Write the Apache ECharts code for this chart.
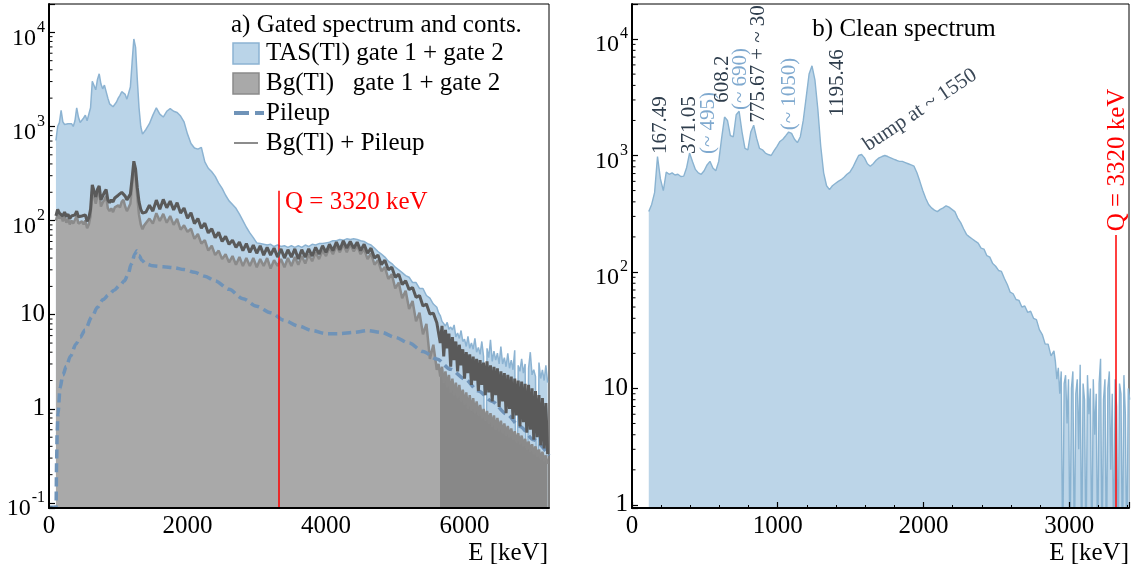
<!DOCTYPE html>
<html>
<head>
<meta charset="utf-8">
<script src="https://cdn.jsdelivr.net/npm/echarts@6/dist/echarts.min.js"></script>
<style>
html,body{margin:0;padding:0;background:#fff}
#chart{width:1136px;height:569px}
</style>
</head>
<body>
<div id="chart"></div>
<script>
// ---------- Panel a: gated spectrum and contaminants ----------
// energy grid (keV): 25 keV bins to 1400, 50 keV bins to 5600, 25 keV bins in the tail
const gatedEnergies = [];
for (let e = 100; e <= 1400; e += 25) gatedEnergies.push(e);
for (let e = 1450; e <= 5600; e += 50) gatedEnergies.push(e);
for (let e = 5625; e <= 7200; e += 25) gatedEnergies.push(e);

// TAS(Tl) gate 1 + gate 2
const tasCounts = [
  // 100 .. 1400
  710, 1000, 1100, 1480, 1120, 1050, 1000, 1070, 1020, 1070,
  1000, 1150, 1580, 1260, 1100, 1150, 1230, 1320, 1150, 1200,
  1580, 3020, 3160, 2450, 3160, 3630, 2820, 2510, 2750, 2880,
  2000, 1740, 1660, 1620, 1700, 1820, 2000, 2140, 2340, 2450,
  2190, 1950, 2000, 2630, 4790, 8510, 6920, 3160, 1580, 1000,
  830, 850, 930,
  // 1450 .. 5600
  1070, 1320, 1580, 1350, 1260, 1450, 1550, 1450, 1410, 1290,
  1120, 830, 660, 590, 575, 600, 420, 360, 330, 295,
  250, 220, 186, 162, 148, 135, 117, 100, 85, 74,
  66, 58, 57, 56, 55, 56, 53, 55, 53, 54,
  52, 54, 52, 54, 52, 55, 53, 56, 55, 57,
  57, 58, 59, 61, 61, 63, 62, 64, 63, 64,
  63, 61, 60, 57, 55, 51, 47, 44, 41, 37,
  35, 32, 30, 28, 26, 25, 22, 22, 19, 19,
  16, 15, 13, 12,
  // 5625 .. 7200
  10.5, 9.8, 8.5, 8.9, 7.6, 8.3, 7.0, 7.4, 6.9, 7.8,
  5.8, 6.4, 5.6, 6.8, 5.2, 5.5, 4.6, 5.9, 4.4, 5.0,
  4.3, 5.6, 4.0, 4.5, 3.8, 5.2, 3.6, 0.02, 4.4, 3.5,
  5.4, 3.2, 4.1, 3.3, 3.9, 3.0, 4.6, 3.0, 3.5, 2.8,
  3.9, 2.7, 3.3, 2.6, 4.2, 0.02, 2.9, 2.5, 3.4, 2.4,
  3.0, 0.02, 2.7, 4.0, 2.3, 2.6, 2.2, 0.02, 3.1, 2.1,
  2.6, 2.0, 2.9, 1.9
];

// Bg(Tl) gate 1 + gate 2
const bgCounts = [
  // 100 .. 1400
  100, 117, 105, 115, 98, 110, 95, 105, 91, 100,
  93, 102, 112, 93, 89, 98, 91, 100, 83, 91,
  112, 214, 224, 151, 186, 204, 141, 155, 166, 182,
  135, 126, 135, 123, 138, 132, 145, 138, 158, 166,
  141, 126, 126, 151, 240, 372, 302, 178, 115, 91,
  81, 89, 85,
  // 1450 .. 5600
  105, 93, 120, 99, 118, 95, 112, 90, 104, 80,
  89, 76, 82, 64, 72, 57, 62, 48, 54, 43,
  48, 39, 44, 36, 42, 34, 41, 33, 40, 33,
  40, 32, 39, 33, 40, 31, 38, 33, 39, 32,
  40, 33, 41, 34, 42, 35, 44, 37, 46, 39,
  48, 42, 52, 44, 54, 46, 56, 46, 56, 47,
  54, 44, 50, 39, 45, 34, 38, 29, 32, 24,
  27, 19, 22, 15, 18, 11.5, 14, 8.5, 10.5, 6.2,
  8, 3.4, 4.8, 2.6,
  // 5625 .. 7200
  3.0, 2.2, 2.8, 1.9, 2.5, 1.7, 2.3, 1.5, 2.1, 1.4,
  1.9, 1.3, 1.8, 1.2, 1.6, 1.1, 1.5, 1.0, 1.4, 0.95,
  1.3, 0.9, 1.2, 0.85, 1.1, 0.8, 1.0, 0.75, 0.95, 0.7,
  0.9, 0.65, 0.85, 0.6, 0.8, 0.58, 0.75, 0.55, 0.7, 0.52,
  0.66, 0.5, 0.62, 0.47, 0.58, 0.44, 0.55, 0.42, 0.52, 0.4,
  0.48, 0.37, 0.45, 0.35, 0.42, 0.33, 0.4, 0.31, 0.37, 0.29,
  0.35, 0.28, 0.32, 0.26
];

// Bg(Tl) + Pileup
const bgPileupCounts = [
  // 100 .. 1400
  112, 132, 120, 126, 112, 123, 110, 117, 105, 112,
  107, 115, 126, 110, 105, 112, 107, 115, 98, 107,
  132, 240, 250, 178, 214, 234, 166, 182, 200, 214,
  166, 155, 166, 158, 174, 170, 186, 182, 200, 209,
  182, 166, 162, 191, 282, 427, 355, 224, 158, 132,
  120, 126, 123,
  // 1450 .. 5600
  146, 126, 165, 132, 168, 137, 161, 130, 155, 120,
  136, 106, 121, 93, 105, 83, 94, 74, 82, 66,
  75, 60, 68, 56, 62, 52, 59, 48, 57, 46,
  55, 45, 54, 43, 52, 43, 51, 41, 50, 40,
  49, 41, 50, 39, 49, 41, 50, 42, 52, 44,
  54, 46, 56, 48, 59, 49, 61, 51, 60, 51,
  59, 48, 56, 45, 51, 40, 43, 34, 38, 30,
  32, 25, 27, 21, 23, 18.5, 19.5, 15.3, 16, 12.4,
  13, 10.2, 10.4, 8.2,
  // 5625 .. 7200
  8.5, 5.0, 7.6, 3.6, 6.9, 4.4, 6.3, 2.8, 5.8, 3.3,
  5.2, 2.5, 4.8, 2.9, 4.3, 2.1, 4.0, 2.4, 3.8, 1.8,
  3.6, 2.0, 3.4, 1.55, 3.3, 1.8, 3.1, 1.4, 3.2, 1.5,
  2.9, 1.2, 2.8, 1.4, 2.7, 1.05, 2.5, 1.2, 2.4, 0.9,
  2.3, 1.0, 2.2, 0.78, 2.1, 0.85, 2.0, 0.65, 1.95, 0.72,
  1.85, 0.56, 1.8, 0.6, 1.65, 0.47, 1.55, 0.5, 1.4, 0.41,
  1.3, 0.38, 1.15, 0.33
];

// Pileup estimate
const pileupEnergies = [
  0, 102, 110, 118, 130, 160, 200, 250, 310, 390, 450, 520, 620, 700, 780,
  860, 940, 1020, 1090, 1140, 1190, 1240, 1270, 1300, 1340, 1400, 1500,
  1650, 1800, 1950, 2100, 2250, 2400, 2600, 2800, 3000, 3200, 3400, 3600,
  3800, 4000, 4200, 4400, 4600, 4800, 5000, 5200, 5400, 5600, 5800, 6000,
  6200, 6400, 6600, 6800, 7000, 7220
];
const pileupCounts = [
  0.09, 0.09, 0.28, 0.56, 0.89, 1.66, 2.29, 2.82, 3.63, 4.9, 5.75, 6.9, 9.5, 12.0, 14.5,
  16.2, 18.2, 20.4, 22.9, 26.9, 34.7, 44.2, 47.9, 42.7, 38.0, 34.7, 33.1,
  32.4, 31.6, 30.2, 28.2, 25.7, 22.9, 18.6, 14.8, 12.3, 10.5, 8.7, 7.6,
  6.8, 6.3, 6.3, 6.5, 6.8, 6.5, 5.75, 5.0, 4.07, 3.39, 2.63, 2.09,
  1.55, 1.2, 0.89, 0.65, 0.47, 0.32
];

// ---------- Panel b: clean spectrum ----------
// 20 keV bins up to 2895 keV, 10 keV bins above
const cleanEnergies = [];
for (let e = 115; e <= 2895; e += 20) cleanEnergies.push(e);
for (let e = 2905; e <= 3415; e += 10) cleanEnergies.push(e);
const cleanCounts = [
  330, 380, 480, 980, 630, 500, 720, 690, 710, 680,
  690, 660, 665, 790, 1050, 890, 760, 710, 690, 740,
  830, 890, 780, 740, 890, 1410, 2140, 2000, 1480, 1450,
  2240, 2400, 1590, 1150, 1120, 1590, 1820, 1410, 1150, 1120,
  1050, 1020, 1000, 1100, 1200, 1320, 1380, 1480, 1590, 1550,
  1380, 1290, 1450, 2000, 3160, 5010, 5890, 4470, 2510, 1200,
  710, 550, 510, 550, 575, 600, 620, 650, 690, 720,
  790, 890, 1000, 1020, 955, 850, 810, 850, 910, 955,
  980, 1000, 980, 955, 930, 910, 890, 890, 870, 850,
  830, 810, 710, 600, 500, 430, 380, 355, 340, 330,
  345, 355, 370, 360, 345, 330, 290, 265, 235, 210,
  200, 192, 184, 177, 160, 157, 138, 134, 118, 112,
  103, 101, 88, 78, 67, 65, 58, 57, 50, 51,
  45, 46, 40, 39, 32, 29, 24, 24, 19, 21,
  // 2905 .. 3415
  17, 12, 15, 9, 14, 0.3, 11, 13, 5, 12,
  0.3, 10, 14, 0.3, 9, 12, 3, 16, 0.3, 11,
  8, 0.3, 13, 6, 10, 0.3, 12, 4, 9, 0.3,
  11, 18, 0.3, 8, 12, 0.3, 10, 14, 2, 9,
  0.3, 12, 7, 0.3, 11, 9, 0.3, 13, 6, 0.3,
  10, 8
];

// Q-value and peak annotations
const qValue = 3320;
const peakLabels = [
  { text: '167.49', tone: 'dark' },
  { text: '371.05', tone: 'dark' },
  { text: '(~ 495)', tone: 'light' },
  { text: '608.2', tone: 'dark' },
  { text: '(~ 690)', tone: 'light' },
  { text: '775.67 + ~ 30', tone: 'dark' },
  { text: '(~ 1050)', tone: 'light' },
  { text: '1195.46', tone: 'dark' }
];

// ---------- drawing ----------
const FONT = 'Liberation Serif';
const C = {
  tasFill: '#bad4e8', tasLine: '#8cb3d2',
  bgFill: '#a9a9a9', bgTail: '#888888', bgLine: '#8a8a8a',
  bgPile: '#5a5a5a', pileup: '#6f93b8',
  cleanFill: '#bcd5e8', cleanLine: '#8ab3d1',
  q: '#ff0000', dark: '#2e3d4c', light: '#7fa9cf'
};

const pairs = (xs, ys) => xs.map((x, i) => [x, ys[i]]);

const yRangeA = [0.0885, 20000];
const yRangeB = [0.94, 20000];
const xMaxA = 7220, xMaxB = 3410;

const measureCtx = document.createElement('canvas').getContext('2d');
function textWidth(t, size) {
  measureCtx.font = size + 'px "' + FONT + '"';
  return measureCtx.measureText(t).width;
}

function decades(lo, hi) {
  const out = [];
  for (let e = -2; e <= 5; e++) {
    const v = Math.pow(10, e);
    if (v >= lo && v <= hi) out.push([0, v]);
  }
  return out;
}
function minorLogTicks(lo, hi) {
  const out = [];
  for (let e = -2; e <= 5; e++) {
    for (let m = 2; m <= 9; m++) {
      const v = m * Math.pow(10, e);
      if (v > lo && v < hi) out.push([0, v]);
    }
  }
  return out;
}

function yAxisLog(gridIndex, range) {
  return {
    type: 'log', gridIndex, logBase: 10, min: range[0], max: range[1],
    axisLine: { show: true, lineStyle: { color: '#000', width: 2 } },
    axisTick: { show: true, inside: true, length: 6, lineStyle: { color: '#000', width: 1.2 } },
    minorTick: { show: false },
    splitLine: { show: false },
    axisLabel: { show: false },
    z: 5
  };
}

function xAxisVal(gridIndex, max, interval, showTicks) {
  return {
    type: 'value', gridIndex, min: 0, max, interval,
    axisLine: { show: true, onZero: false, lineStyle: { color: '#000', width: 2 } },
    axisTick: { show: showTicks, inside: true, length: 6, lineStyle: { color: '#000', width: 1.2 } },
    minorTick: { show: showTicks, splitNumber: 5, length: 3, lineStyle: { color: '#000', width: 1 } },
    splitLine: { show: false },
    axisLabel: {
      showMaxLabel: false, fontFamily: FONT, fontSize: 25, color: '#000', margin: 6,
      formatter: v => String(v)
    },
    z: 5
  };
}

// minor log ticks (2..9 x 10^n) on the inner side of the y axis
function minorTickSeries(axisIdx, data) {
  return {
    type: 'custom', xAxisIndex: axisIdx, yAxisIndex: axisIdx, data, z: 20, silent: true, clip: false,
    renderItem: (params, api) => {
      const p = api.coord([api.value(0), api.value(1)]);
      return { type: 'line', shape: { x1: p[0], y1: p[1], x2: p[0] + 3.5, y2: p[1] },
               style: { stroke: '#000', lineWidth: 1 } };
    }
  };
}

// decade labels: 1, 10 and 10^n with a raised exponent
function decadeLabelSeries(axisIdx, data) {
  return {
    type: 'custom', xAxisIndex: axisIdx, yAxisIndex: axisIdx, data, z: 20, silent: true, clip: false,
    renderItem: (params, api) => {
      const v = api.value(1);
      const p = api.coord([api.value(0), v]);
      const n = Math.round(Math.log10(v));
      const xr = p[0] - 4;
      const base = { fontFamily: FONT, fill: '#000', align: 'right', verticalAlign: 'middle' };
      if (n === 0 || n === 1) {
        return { type: 'text', x: xr, y: p[1], style: Object.assign({ text: n === 0 ? '1' : '10', fontSize: 25 }, base) };
      }
      const sup = String(n);
      const supW = textWidth(sup, 16);
      return {
        type: 'group',
        children: [
          { type: 'text', x: xr, y: p[1] - 5, style: Object.assign({ text: sup, fontSize: 16 }, base) },
          { type: 'text', x: xr - supW - 1, y: p[1] + 6, style: Object.assign({ text: '10', fontSize: 24 }, base) }
        ]
      };
    }
  };
}

function qMarkLine(yLow, yTop) {
  return {
    silent: true, symbol: 'none', label: { show: false },
    lineStyle: { color: C.q, width: 1.5, type: 'solid' },
    data: [[{ coord: [qValue, yLow] }, { coord: [qValue, yTop] }]]
  };
}

const bgTailStop = (5650 - gatedEnergies[0]) / (gatedEnergies[gatedEnergies.length - 1] - gatedEnergies[0]);

function txt(x, y, text, opt) {
  opt = opt || {};
  return {
    type: 'text', x, y, rotation: opt.rotation || 0, z: 100, silent: true,
    style: {
      text, fill: opt.color || '#000', fontFamily: FONT, fontSize: opt.size || 25,
      align: opt.align || 'left', verticalAlign: opt.vAlign || 'middle'
    }
  };
}

// peak label centres (panel b, pixels)
const peakLabelPos = [
  [660, 125], [689, 125], [708, 123], [722, 79], [740, 79], [758, 64], [789, 94], [837, 83]
];

const graphics = [
  txt(231, 25, 'a) Gated spectrum and conts.'),
  { type: 'rect', z: 100, shape: { x: 233, y: 43, width: 26, height: 21 }, style: { fill: C.tasFill, stroke: C.tasLine, lineWidth: 1.5 } },
  txt(266, 53, 'TAS(Tl) gate 1 + gate 2'),
  { type: 'rect', z: 100, shape: { x: 233, y: 73, width: 26, height: 21 }, style: { fill: C.bgFill, stroke: C.bgLine, lineWidth: 1.5 } },
  txt(266, 83, 'Bg(Tl)   gate 1 + gate 2'),
  { type: 'line', z: 100, shape: { x1: 234, y1: 113, x2: 264, y2: 113 }, style: { stroke: C.pileup, lineWidth: 4, lineDash: [15, 6] } },
  txt(266, 113, 'Pileup'),
  { type: 'line', z: 100, shape: { x1: 234, y1: 143, x2: 258, y2: 143 }, style: { stroke: '#666', lineWidth: 1.5 } },
  txt(266, 143, 'Bg(Tl) + Pileup'),
  txt(285, 202, 'Q = 3320 keV', { color: C.q }),
  txt(548, 553, 'E [keV]', { align: 'right' }),
  txt(904, 29, 'b) Clean spectrum', { align: 'center' }),
  txt(1117, 160, 'Q = 3320 keV', { color: C.q, align: 'center', rotation: Math.PI / 2 }),
  txt(1129, 553, 'E [keV]', { align: 'right' }),
  txt(920, 110, 'bump at ~ 1550', { color: '#3b4857', align: 'center', size: 21, rotation: 0.59 })
];
peakLabels.forEach((p, i) => {
  graphics.push(txt(peakLabelPos[i][0], peakLabelPos[i][1], p.text, {
    color: p.tone === 'dark' ? C.dark : C.light, align: 'center', size: 21, rotation: Math.PI / 2
  }));
});

const option = {
  animation: false,
  textStyle: { fontFamily: FONT },
  grid: [
    { left: 49, top: 4, width: 500, height: 504, show: true, borderColor: '#000', borderWidth: 1, backgroundColor: 'transparent' },
    { left: 632, top: 4, width: 497, height: 504, show: true, borderColor: '#000', borderWidth: 1, backgroundColor: 'transparent' }
  ],
  xAxis: [xAxisVal(0, xMaxA, 2000, false), xAxisVal(1, xMaxB, 1000, true)],
  yAxis: [yAxisLog(0, yRangeA), yAxisLog(1, yRangeB)],
  series: [
    {
      name: 'TAS(Tl) gate 1 + gate 2', type: 'line', xAxisIndex: 0, yAxisIndex: 0,
      data: pairs(gatedEnergies, tasCounts), showSymbol: false, z: 2,
      lineStyle: { color: C.tasLine, width: 1.5 },
      areaStyle: { color: C.tasFill, opacity: 1 }
    },
    {
      name: 'Bg(Tl) gate 1 + gate 2', type: 'line', xAxisIndex: 0, yAxisIndex: 0,
      data: pairs(gatedEnergies, bgCounts), showSymbol: false, z: 3,
      lineStyle: { color: C.bgLine, width: 2.5 },
      areaStyle: {
        opacity: 1,
        color: { type: 'linear', x: 0, y: 0, x2: 1, y2: 0, colorStops: [
          { offset: 0, color: C.bgFill }, { offset: bgTailStop - 0.001, color: C.bgFill },
          { offset: bgTailStop, color: C.bgTail }, { offset: 1, color: C.bgTail }
        ] }
      }
    },
    {
      name: 'Pileup', type: 'line', xAxisIndex: 0, yAxisIndex: 0,
      data: pairs(pileupEnergies, pileupCounts), showSymbol: false, z: 4,
      smooth: 0.3, smoothMonotone: 'x',
      lineStyle: { color: C.pileup, width: 3.5, type: [9, 5] }
    },
    {
      name: 'Bg(Tl) + Pileup', type: 'line', xAxisIndex: 0, yAxisIndex: 0,
      data: pairs(gatedEnergies, bgPileupCounts), showSymbol: false, z: 5,
      lineStyle: { color: C.bgPile, width: 3 },
      markLine: qMarkLine(yRangeA[0], 207)
    },
    {
      name: 'Clean spectrum', type: 'line', xAxisIndex: 1, yAxisIndex: 1,
      data: pairs(cleanEnergies, cleanCounts), showSymbol: false, z: 2,
      lineStyle: { color: C.cleanLine, width: 1.4 },
      areaStyle: { color: C.cleanFill, opacity: 1 },
      markLine: qMarkLine(yRangeB[0], 208)
    },
    minorTickSeries(0, minorLogTicks(yRangeA[0], yRangeA[1])),
    minorTickSeries(1, minorLogTicks(yRangeB[0], yRangeB[1])),
    decadeLabelSeries(0, decades(yRangeA[0], yRangeA[1])),
    decadeLabelSeries(1, decades(yRangeB[0], yRangeB[1]))
  ],
  graphic: { elements: graphics }
};

const chart = echarts.init(document.getElementById('chart'), null, { renderer: 'canvas' });
chart.setOption(option);
</script>
</body>
</html>
